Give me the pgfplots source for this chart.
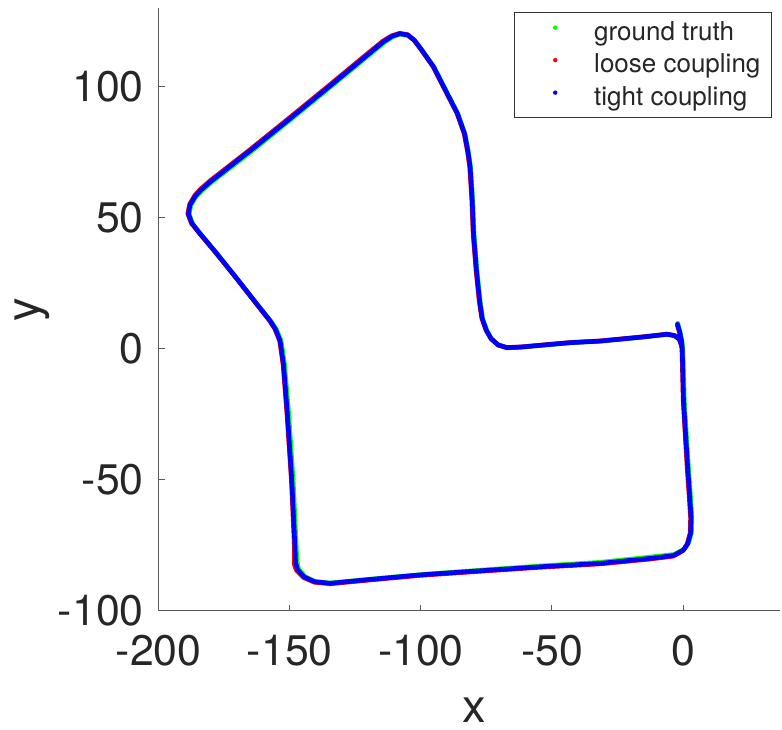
\documentclass[border=0pt]{standalone}
\usepackage{fontspec}
\setmainfont{TeX Gyre Heros}
\usepackage{pgfplots}
\pgfplotsset{compat=1.18}
\definecolor{axgray}{RGB}{38,38,38}
\begin{document}
\begin{tikzpicture}
\begin{axis}[
  scale only axis, width=310.65pt, height=301.1pt,
  xmin=-200, xmax=37, ymin=-100, ymax=130,
  axis x line*=bottom, axis y line*=left,
  axis line style={black!65, line width=0.5pt},
  xtick={-200,-150,-100,-50,0}, ytick={-100,-50,0,50,100},
  tick align=inside, major tick length=3pt,
  tick style={black!65, line width=0.5pt},
  /pgf/number format/assume math mode=true,
  ticklabel style={font=\fontsize{21.4}{25}\selectfont, text=axgray, inner sep=0pt},
  xticklabel style={yshift=-12.25pt},
  yticklabel style={xshift=-7.35pt},
  xlabel={x}, ylabel={y},
  label style={font=\fontsize{23.5}{28}\selectfont, text=axgray, inner sep=0pt},
  xlabel style={at={([yshift=-55.75pt]axis description cs:0.508,0)}, anchor=base},
  ylabel style={at={([xshift=-59.6pt]axis description cs:0,0.5)}, anchor=base},
  legend style={at={(0.987,0.9934)}, anchor=north east, draw=black!80, line width=0.5pt,
    inner xsep=5.5pt, inner ysep=1.7pt, font=\fontsize{13}{15.6}\selectfont, text=axgray,
    row sep=0pt, column sep=0pt, nodes={inner sep=0pt}},
  legend cell align=left,
  legend image code/.code={\path[draw=none,fill=none] (0pt,-8.125pt) rectangle (34.5pt,8.125pt); \fill[#1, draw=none] (15pt,2.4pt) circle (1.1pt);},
  every axis plot/.append style={line width=2.3pt, line join=round, line cap=round},
]
\addplot[color=green, mark=none] coordinates {
(-2.0,9.7)(-1.1,6.5)(-0.4,3)(-0.05,0)(0.5,-20)(1.3,-33)(2.1,-45.6)(2.9,-57)(3.4,-64.8)(3.2,-70.5)(2.1,-74.2)(0.5,-76.5)(-3.4,-78.6)(-12.5,-79.6)(-31.6,-81.6)(-54.5,-83)(-80,-84.8)(-100.3,-86.3)(-120,-88.1)(-134.6,-89.5)(-140.4,-88.9)(-144.2,-87)(-146.6,-84.2)(-147.3,-81.2)(-147.5,-76.1)(-148.7,-50.7)(-150.4,-25.1)(-152,-6)(-153.3,3)(-155.1,7.4)(-157.1,10.4)(-161.7,16)(-169.7,26.2)(-177.7,36.2)(-183.9,43.6)(-187,47.6)(-188.4,51.4)(-187.7,54.9)(-185.7,58.1)(-183.7,60.2)(-179.7,63.7)(-164.7,75.3)(-149.7,87.5)(-133.1,101.1)(-119.7,112.2)(-114,116.9)(-110.8,119.1)(-107.9,120.1)(-104.9,119.6)(-102.3,117.6)(-99.8,114.4)(-95,107.6)(-89.8,97.4)(-85.9,89.8)(-83.1,81.9)(-81.8,74.9)(-81,69.2)(-80.2,56.6)(-79.7,43.8)(-78.6,30)(-77.4,18.3)(-76.4,11.4)(-74.8,6.9)(-73,3.7)(-70.4,1.3)(-67.1,0.35)(-62,0.55)(-43,2.25)(-31.6,2.85)(-15,4.45)(-6.1,5.45)(-3.1,4.95)(-1.2,3.5)(-0.4,1.45)(-0.1,0)
};
\addlegendentry{ground truth}
\addplot[color=red, mark=none] coordinates {
(-2.2,9.1)(-1.4,6.4)(-0.7,3)(-0.4,0)(0.1,-20)(0.85,-33)(1.6,-45.6)(2.4,-57)(2.9,-64.8)(2.7,-70.6)(1.55,-74.7)(-0.05,-77.15)(-3.75,-79.25)(-12.5,-80.35)(-31.6,-82.2)(-54.5,-83.5)(-80,-85.2)(-100.3,-86.6)(-120,-88.4)(-134.6,-89.8)(-140.65,-89.2)(-144.75,-87.4)(-147.5,-84.6)(-148.3,-82.3)(-148.2,-76.2)(-149.35,-50.7)(-151.05,-25.1)(-152.55,-6)(-153.85,3)(-155.7,7.6)(-157.7,10.75)(-162.2,16.5)(-170.2,26.7)(-178.25,36.7)(-184.45,44.1)(-187.55,47.95)(-188.9,51.55)(-188.2,55.15)(-186.25,58.5)(-184.25,60.75)(-180.25,64.25)(-165.25,75.95)(-150.25,88.05)(-133.65,101.65)(-120.25,112.75)(-114.55,117.4)(-111.15,119.5)(-108.1,120.45)(-105.1,119.95)(-102.65,117.9)(-100.15,114.6)(-95.35,107.8)(-90.15,97.6)(-86.25,90)(-83.45,82.1)(-82.15,75.1)(-81.35,69.3)(-80.55,56.6)(-80.05,43.8)(-78.95,30)(-77.75,18.3)(-76.75,11.6)(-75.15,7.1)(-73.3,3.9)(-70.6,1.5)(-67.25,0.45)(-62,0.65)(-43,2.35)(-31.6,2.95)(-15,4.55)(-6.1,5.55)(-3.25,5.05)(-1.5,3.65)(-0.7,1.55)(-0.4,0)
};
\addlegendentry{loose coupling}
\addplot[color=blue, mark=none] coordinates {
(-2.1,9.3)(-1.3,6.5)(-0.6,3)(-0.3,0)(0.2,-20)(1.0,-33)(1.8,-45.6)(2.6,-57)(3.1,-64.8)(2.9,-70.5)(1.8,-74.5)(0.2,-76.9)(-3.6,-79)(-12.5,-80.1)(-31.6,-82)(-54.5,-83.3)(-80,-85)(-100.3,-86.4)(-120,-88.2)(-134.6,-89.6)(-140.5,-89)(-144.5,-87.2)(-147,-84.5)(-147.8,-81.5)(-148,-76.2)(-149.2,-50.7)(-150.9,-25.1)(-152.4,-6)(-153.7,3)(-155.5,7.5)(-157.5,10.6)(-162,16.3)(-170,26.5)(-178,36.5)(-184.2,43.9)(-187.3,47.8)(-188.7,51.5)(-188,55)(-186,58.3)(-184,60.5)(-180,64)(-165,75.7)(-150,87.8)(-133.4,101.4)(-120,112.5)(-114.3,117.2)(-111,119.3)(-108,120.3)(-105,119.8)(-102.5,117.8)(-100,114.5)(-95.2,107.7)(-90,97.5)(-86.1,89.9)(-83.3,82)(-82,75)(-81.2,69.3)(-80.4,56.6)(-79.9,43.8)(-78.8,30)(-77.6,18.3)(-76.6,11.5)(-75,7)(-73.2,3.8)(-70.5,1.4)(-67.2,0.4)(-62,0.6)(-43,2.3)(-31.6,2.9)(-15,4.5)(-6.1,5.5)(-3.2,5)(-1.4,3.6)(-0.6,1.5)(-0.3,0)
};
\addlegendentry{tight coupling}
\coordinate (ll) at (rel axis cs:0,0);
\coordinate (ur) at (rel axis cs:1,1);
\end{axis}
\pgfresetboundingbox
\path ([shift={(-79.35pt,-59.25pt)}]ll) rectangle ([shift={(1pt,4.15pt)}]ur);
\end{tikzpicture}
\end{document}
